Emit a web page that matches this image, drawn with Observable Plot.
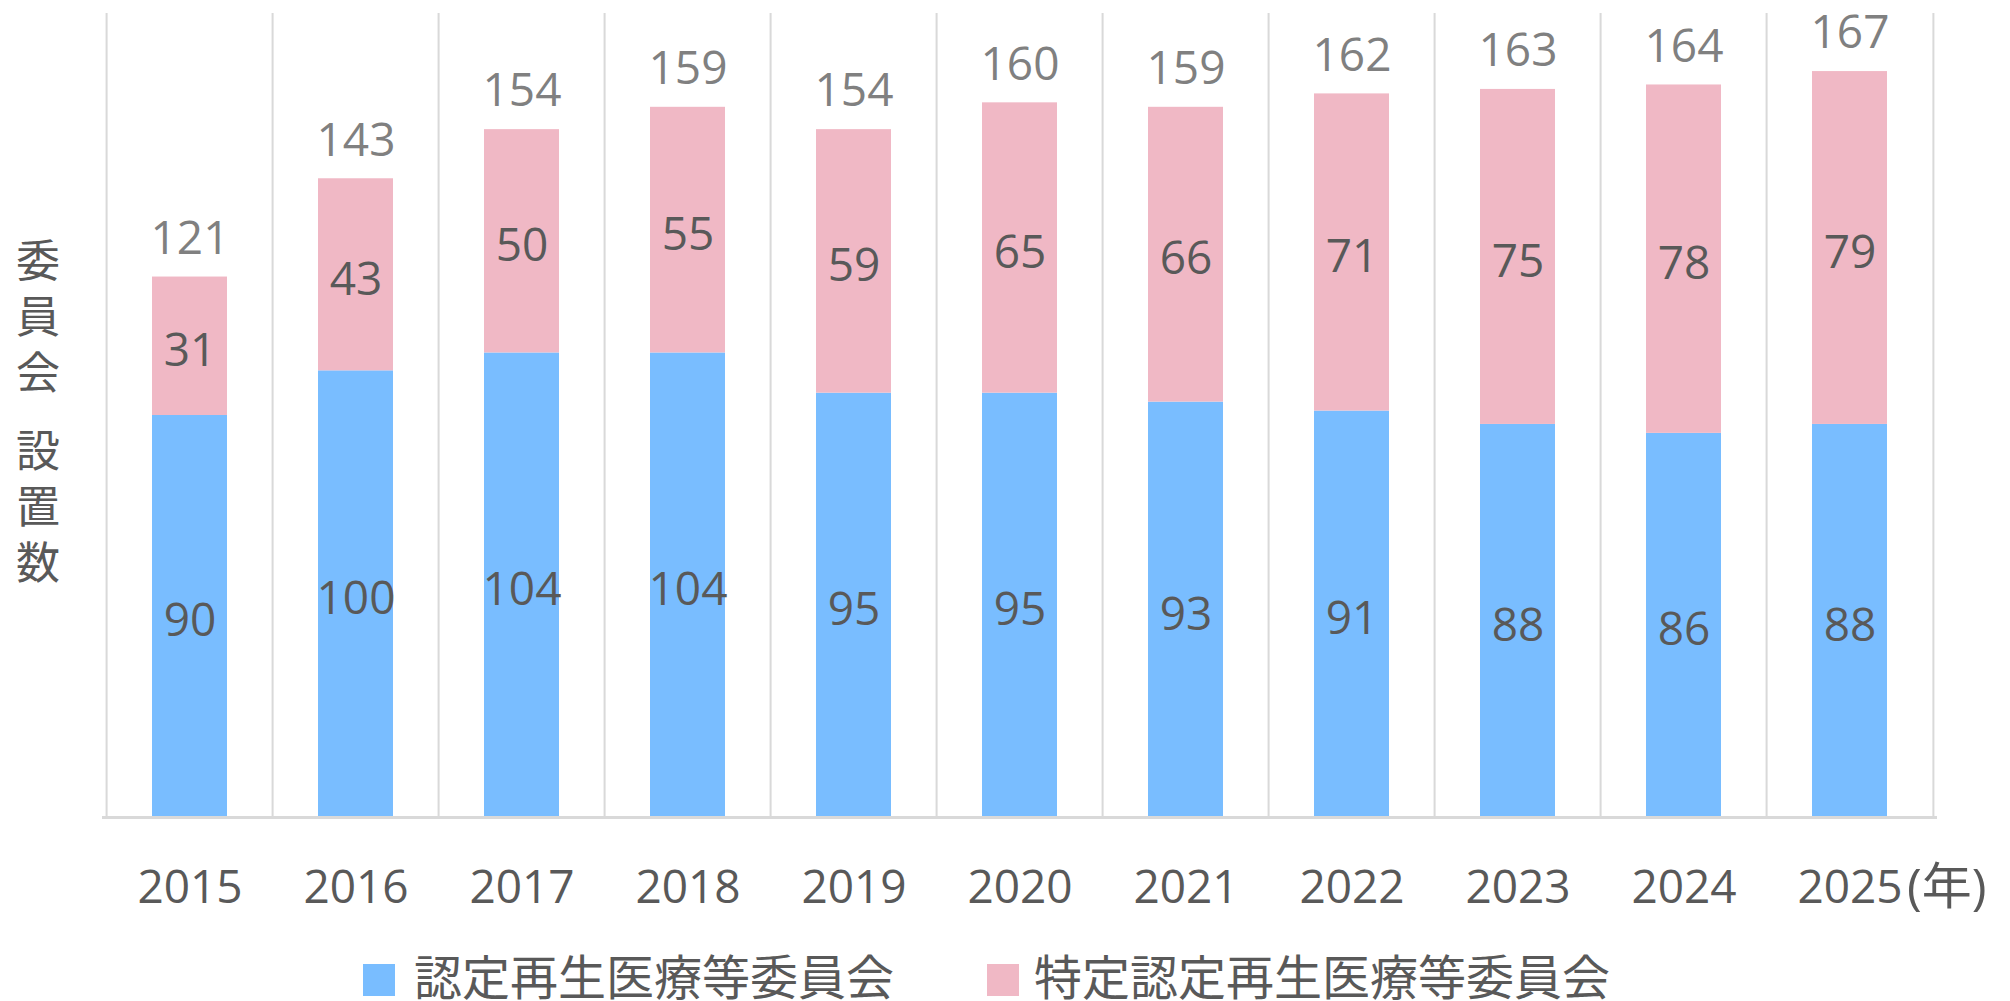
<!DOCTYPE html>
<html>
<head>
<meta charset="utf-8">
<script src="https://cdn.jsdelivr.net/npm/d3@7"></script>
<script src="https://cdn.jsdelivr.net/npm/@observablehq/plot@0.6"></script>
<style>
  html, body { margin: 0; padding: 0; background: #fff; overflow: hidden; }
  #wrap { position: relative; width: 2010px; height: 1001px; font-family: "Open Sans", "Noto Sans CJK JP", sans-serif; }
  #ylabel { position: absolute; left: 16px; top: 238px; writing-mode: vertical-rl; font-family: "Noto Sans CJK JP", sans-serif; font-size: 44px; letter-spacing: 12px; color: #595959; line-height: 44px; }
  .sw { position: absolute; width: 32px; height: 32px; top: 964px; }
  .lt { position: absolute; top: 950px; font-family: "Noto Sans CJK JP", sans-serif; font-size: 48px; line-height: 48px; color: #595959; white-space: nowrap; }
</style>
</head>
<body>
<div id="wrap">
  <div id="chart"></div>
  <div id="ylabel"></div>
  <div id="legend"></div>
</div>
<script>
// ---- data ----
const years = ["2015", "2016", "2017", "2018", "2019", "2020", "2021", "2022", "2023", "2024", "2025"];
const ninteiValues = [90, 100, 104, 104, 95, 95, 93, 91, 88, 86, 88];
const tokuteiValues = [31, 43, 50, 55, 59, 65, 66, 71, 75, 78, 79];
const totalValues = [121, 143, 154, 159, 154, 160, 159, 162, 163, 164, 167];
const seriesNames = ["認定再生医療等委員会", "特定認定再生医療等委員会"];
const seriesColors = ["#79bdff", "#f0b8c5"];
const yearUnit = "(年)";
const yAxisLabel = "委員会 設置数";

// ---- tables built from the arrays ----
const long = years.flatMap((y, i) => [
  {year: y, series: seriesNames[0], value: ninteiValues[i]},
  {year: y, series: seriesNames[1], value: tokuteiValues[i]}
]);
const totals = years.map((y, i) => ({year: y, total: totalValues[i]}));

const W = 2010, H = 950, ML = 102, MR = 73, MT = 13, MB = 133;
const step = (W - ML - MR) / years.length;
const grid = "#d9d9d9";
const font = "'Open Sans', 'Noto Sans CJK JP', sans-serif";

const chart = Plot.plot({
  width: W, height: H,
  marginLeft: ML, marginRight: MR, marginTop: MT, marginBottom: MB,
  style: {fontFamily: font, background: "#fff", overflow: "visible"},
  x: {domain: years, paddingInner: 0.55, paddingOuter: 0.275, label: null},
  y: {domain: [0, 180], axis: null},
  color: {domain: seriesNames, range: seriesColors},
  marks: [
    Plot.ruleX(years, {x: d => d, y1: 0, y2: 180, dx: -step / 2, stroke: grid, strokeWidth: 2}),
    Plot.ruleX(years.slice(-1), {x: d => d, y1: 0, y2: 180, dx: step / 2, stroke: grid, strokeWidth: 2}),
    Plot.barY(long, {x: "year", y: "value", fill: "series"}),
    Plot.ruleY([0], {stroke: grid, strokeWidth: 3}),
    Plot.text(long, Plot.stackY({x: "year", y: "value", text: d => String(d.value), fill: "#595959", fontSize: 46, dy: 5})),
    Plot.text(totals, {x: "year", y: "total", text: d => String(d.total), dy: -38, fill: "#808080", fontSize: 46}),
    Plot.axisX({tickSize: 0, tickPadding: 53, fontSize: 46, fill: "#595959", label: null}),
    Plot.text([yearUnit], {x: () => years[years.length - 1], frameAnchor: "bottom", lineAnchor: "middle", dy: 70, dx: 57, textAnchor: "start", text: d => d, fill: "#595959", fontSize: 50})
  ]
});
document.getElementById("chart").appendChild(chart);

document.getElementById("ylabel").textContent = yAxisLabel;

const legend = document.getElementById("legend");
const swatchLeft = [363, 987];
const textLeft = [414, 1034];
seriesNames.forEach((name, i) => {
  const sw = document.createElement("div");
  sw.className = "sw";
  sw.style.left = swatchLeft[i] + "px";
  sw.style.background = seriesColors[i];
  legend.appendChild(sw);
  const t = document.createElement("div");
  t.className = "lt";
  t.style.left = textLeft[i] + "px";
  t.textContent = name;
  legend.appendChild(t);
});
</script>
</body>
</html>
